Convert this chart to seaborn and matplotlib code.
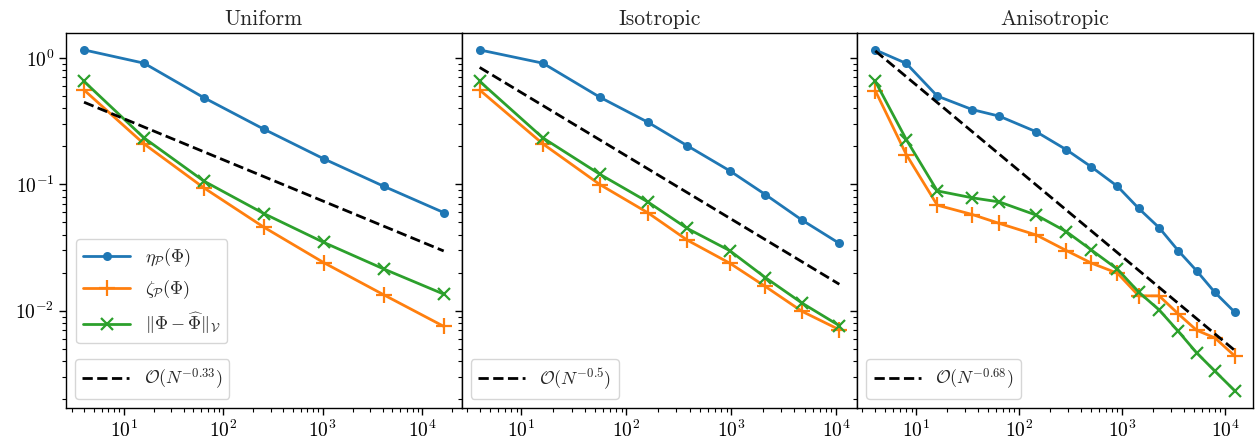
import matplotlib
matplotlib.use('Agg')
import matplotlib.pyplot as plt
import seaborn as sns

# ===[ Data: ]=================================================================
titles = ['Uniform', 'Isotropic', 'Anisotropic']

# number of degrees of freedom per refinement step
n_uniform = [4, 16, 64, 256, 1024, 4096, 16384]
n_isotropic = [4, 16, 56, 160, 380, 965, 2110, 4720, 10700]
n_anisotropic = [4, 8, 16, 35, 64, 147, 288, 504, 902, 1452, 2290, 3508,
                 5300, 7980, 12500]

# estimator eta_P
eta_uniform = [1.156, 0.908, 0.484, 0.273, 0.159, 0.0965, 0.0598]
eta_isotropic = [1.156, 0.908, 0.488, 0.310, 0.202, 0.128, 0.083, 0.0521,
                 0.0341]
eta_anisotropic = [1.156, 0.904, 0.499, 0.390, 0.346, 0.260, 0.1876, 0.1371,
                   0.0964, 0.0644, 0.0454, 0.0299, 0.0207, 0.01396, 0.0097]

# estimator zeta_P
zeta_uniform = [0.557, 0.209, 0.0937, 0.0458, 0.0240, 0.01337, 0.00753]
zeta_isotropic = [0.557, 0.209, 0.0995, 0.0596, 0.0362, 0.0238, 0.01556,
                  0.00989, 0.00708]
zeta_anisotropic = [0.550, 0.172, 0.0684, 0.0577, 0.0491, 0.0397, 0.0299,
                    0.0238, 0.0198, 0.01312, 0.01312, 0.00946, 0.00701,
                    0.0061, 0.00437]

# true error
err_uniform = [0.652, 0.233, 0.106, 0.0587, 0.0347, 0.0214, 0.01354]
err_isotropic = [0.652, 0.233, 0.120, 0.0726, 0.0448, 0.0299, 0.0183,
                 0.0115, 0.00762]
err_anisotropic = [0.652, 0.226, 0.0887, 0.0782, 0.0726, 0.0570, 0.0422,
                   0.0302, 0.0213, 0.01403, 0.01016, 0.00689, 0.00465,
                   0.00333, 0.00232]

# reference rate lines: (first value, last value) over the same N range
rate_labels = ['-0.33', '-0.5', '-0.68']
rate_ends = [(0.446, 0.0297), (0.840, 0.0162), (1.135, 0.00484)]

n_all = [n_uniform, n_isotropic, n_anisotropic]
eta_all = [eta_uniform, eta_isotropic, eta_anisotropic]
zeta_all = [zeta_uniform, zeta_isotropic, zeta_anisotropic]
err_all = [err_uniform, err_isotropic, err_anisotropic]


# ===[ Main: ]=================================================================
def main():
    sns.set_style('ticks')
    plt.rcParams['font.family'] = 'serif'
    plt.rcParams['font.serif'] = ['cmr10', 'DejaVu Serif']
    plt.rcParams['mathtext.fontset'] = 'cm'
    plt.rcParams['axes.formatter.use_mathtext'] = True
    plt.rcParams['axes.linewidth'] = 1.0
    plt.rcParams['axes.edgecolor'] = 'black'
    for a in ('xtick', 'ytick'):
        plt.rcParams[a + '.major.size'] = 5
        plt.rcParams[a + '.minor.size'] = 3
        plt.rcParams[a + '.major.width'] = 1.0
        plt.rcParams[a + '.minor.width'] = 0.8
        plt.rcParams[a + '.color'] = 'black'

    fig, axes = plt.subplots(1, 3, figsize=(12.58, 4.44), dpi=100,
                             sharey=True)
    fig.subplots_adjust(left=0.0525, right=0.996, top=0.926, bottom=0.081,
                        wspace=0)

    for i, ax in enumerate(axes):
        n = n_all[i]
        sns.lineplot(x=n, y=eta_all[i], ax=ax, color='C0', marker='o',
                     markersize=6.5, markeredgecolor='C0', markeredgewidth=0,
                     linewidth=2, legend=False,
                     label=r'$\eta_{\mathcal{P}}(\Phi)$')
        sns.lineplot(x=n, y=zeta_all[i], ax=ax, color='C1', marker='+',
                     markersize=11, markeredgecolor='C1', markeredgewidth=1.6,
                     linewidth=2, legend=False,
                     label=r'$\zeta_{\mathcal{P}}(\Phi)$')
        sns.lineplot(x=n, y=err_all[i], ax=ax, color='C2', marker='x',
                     markersize=8.5, markeredgecolor='C2', markeredgewidth=1.6,
                     linewidth=2, legend=False,
                     label=r'$\Vert\Phi - \widehat{\Phi}\Vert_{\mathcal{V}}$')
        ref = ax.plot([n[0], n[-1]], list(rate_ends[i]), color='black',
                      linestyle='--', linewidth=2,
                      label=r'$\mathcal{O}(N^{' + rate_labels[i] + '})$')[0]
        ax.set_xscale('log')
        ax.set_yscale('log')
        ax.set_title(titles[i], fontsize=15.5)
        ax.tick_params(labelsize=14)
        ax.set_xticks([10, 100, 1000, 10000])

        lines = ax.get_lines()[:3]
        if i == 0:
            leg1 = ax.legend(handles=lines, loc='lower left', fontsize=13,
                             bbox_to_anchor=(0.025, 0.173), borderaxespad=0,
                             handlelength=2.6)
            ax.add_artist(leg1)
        ax.legend(handles=[ref], loc='lower left', fontsize=13,
                  handlelength=2.6)

    plt.savefig('out.png', dpi=100)


if __name__ == '__main__':
    main()
